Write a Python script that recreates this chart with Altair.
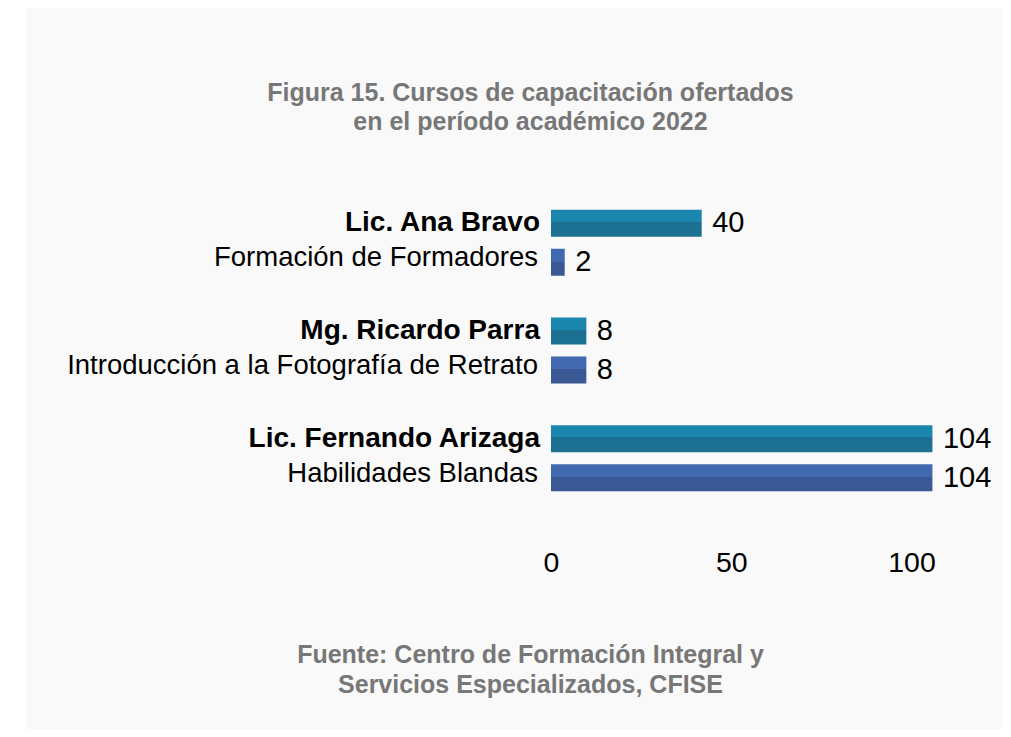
import altair as alt
import pandas as pd

instructors = ["Lic. Ana Bravo", "Mg. Ricardo Parra", "Lic. Fernando Arizaga"]
courses = ["Formación de Formadores", "Introducción a la Fotografía de Retrato", "Habilidades Blandas"]
instructor_values = [40, 8, 104]
course_values = [2, 8, 104]
x_ticks = [0, 50, 100]
title_lines = ["Figura 15. Cursos de capacitación ofertados", "en el período académico 2022"]
source_lines = ["Fuente: Centro de Formación Integral y", "Servicios Especializados, CFISE"]
roles = ["docente", "curso"]

rows = []
for g, c, vi, vc in zip(instructors, courses, instructor_values, course_values):
    rows.append({"grupo": g, "rol": "docente", "etiqueta": g, "valor": vi})
    rows.append({"grupo": g, "rol": "curso", "etiqueta": c, "valor": vc})
df = pd.DataFrame(rows)

FONT = "Liberation Sans"
GREY = "#777777"
PANEL = "#f9f9f9"


def grad(top, bottom, cut=0.45):
    return alt.Gradient(
        gradient="linear",
        x1=0, x2=0, y1=0, y2=1,
        stops=[
            alt.GradientStop(offset=0, color=top),
            alt.GradientStop(offset=cut, color=top),
            alt.GradientStop(offset=cut, color=bottom),
            alt.GradientStop(offset=1, color=bottom),
        ],
    )


x_scale = alt.Scale(domain=[0, 100], range=[525, 885.5], nice=False, zero=True)
x_axis = alt.Axis(
    values=x_ticks, grid=False, domain=False, ticks=False, labelFlush=False,
    labelFontSize=28.5, labelColor="#000000", labelFont=FONT, labelPadding=3,
    offset=-184,
    title=source_lines, titleFont=FONT, titleFontSize=25, titleFontWeight="bold",
    titleColor=GREY, titleLineHeight=30, titleX=504, titleY=117,
    titleAlign="center", titleBaseline="alphabetic",
)
x_enc = alt.X("valor:Q", scale=x_scale, axis=x_axis)
x_base = alt.X("cero:Q", scale=x_scale, axis=x_axis)
y_enc = alt.Y("grupo:N", sort=instructors,
              scale=alt.Scale(range=[201.75, 483.25], paddingInner=0.3875, paddingOuter=0),
              axis=None)
yo_enc = alt.YOffset("rol:N", sort=roles,
                     scale=alt.Scale(paddingInner=0.3077, paddingOuter=0))

base = alt.Chart(df).transform_calculate(cero="0")
doc = base.transform_filter("datum.rol == 'docente'")
cur = base.transform_filter("datum.rol == 'curso'")

bars_doc = doc.mark_bar(color=grad("#1a86ad", "#1c7193"), x2Offset=6.5).encode(
    x=x_base, x2=alt.X2("valor:Q"), y=y_enc, yOffset=yo_enc)
bars_cur = cur.mark_bar(color=grad("#4169b0", "#3a5994", 0.48), x2Offset=6.5).encode(
    x=x_base, x2=alt.X2("valor:Q"), y=y_enc, yOffset=yo_enc)

lab_doc = doc.mark_text(align="right", baseline="middle", dx=-11, font=FONT,
                        fontSize=28, fontWeight="bold", color="#000000").encode(
    x=x_base, y=y_enc, yOffset=yo_enc, text="etiqueta:N")
lab_cur = cur.mark_text(align="right", baseline="middle", dx=-13, dy=-4, font=FONT,
                        fontSize=27.5, color="#000000").encode(
    x=x_base, y=y_enc, yOffset=yo_enc, text="etiqueta:N")
vals = base.mark_text(align="left", baseline="middle", dx=17, font=FONT,
                      fontSize=29, color="#000000").encode(
    x=x_enc, y=y_enc, yOffset=yo_enc, text="valor:Q")

chart = alt.layer(bars_doc, bars_cur, lab_doc, lab_cur, vals).properties(
    width=977, height=721,
    padding={"left": 18, "top": 0, "right": 0, "bottom": 0},
    autosize=alt.AutoSizeParams(type="none"),
    background="#ffffff",
    title=alt.TitleParams(text=title_lines, font=FONT, fontSize=25, fontWeight="bold",
                          color=GREY, anchor="middle", frame="group", offset=-127,
                          dx=16, lineHeight=29),
).configure_view(fill=PANEL, stroke=PANEL)

chart.save("out.html", embed_options={"renderer": "svg", "actions": False})
